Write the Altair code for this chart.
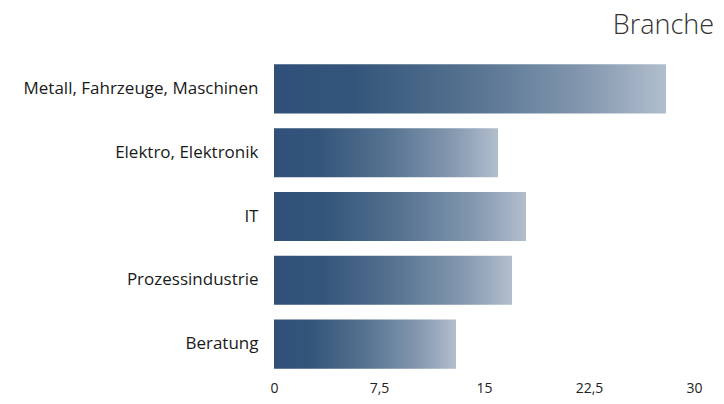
import altair as alt
import pandas as pd

categories = ["Metall, Fahrzeuge, Maschinen", "Elektro, Elektronik", "IT", "Prozessindustrie", "Beratung"]
values = [28, 16, 18, 17, 13]
x_ticks = [0, 7.5, 15, 22.5, 30]

df = pd.DataFrame({"Branche": categories, "Wert": values})

grad = alt.Gradient(
    gradient="linear",
    stops=[
        alt.GradientStop(offset=0, color="#30507a"),
        alt.GradientStop(offset=0.2, color="#34557a"),
        alt.GradientStop(offset=0.5, color="#557290"),
        alt.GradientStop(offset=0.8, color="#8599b0"),
        alt.GradientStop(offset=1, color="#b2becd"),
    ],
    x1=0, x2=1, y1=0, y2=0,
)

chart = alt.Chart(df).mark_bar(color=grad).encode(
    x=alt.X(
        "Wert:Q",
        scale=alt.Scale(domain=[0, 30], nice=False),
        axis=alt.Axis(
            values=x_ticks, title=None, grid=False, domain=False, ticks=False,
            labelExpr="replace(format(datum.value, '.1~f'), '.', ',')",
            labelFontSize=14, labelPadding=5, labelColor="#222222",
            labelFlush=False, labelFont="Open Sans",
        ),
    ),
    y=alt.Y(
        "Branche:N", sort=categories,
        scale=alt.Scale(paddingInner=0.23, paddingOuter=0.115),
        axis=alt.Axis(
            title=None, domain=False, ticks=False, labelFontSize=17,
            labelPadding=16, labelLimit=300, labelColor="#1a1a1a",
            labelFont="Open Sans",
        ),
    ),
).properties(
    width=420,
    height=319,
    title=alt.TitleParams(
        "Branche", anchor="end", dx=12, fontSize=27, fontWeight=300,
        font="Open Sans", color="#333333", baseline="alphabetic", offset=-4,
    ),
    padding={"left": 266, "top": 49, "right": 22, "bottom": 20},
    autosize="none",
).configure_view(stroke=None)

chart.save("out.html", embed_options={"renderer": "svg", "actions": False})
